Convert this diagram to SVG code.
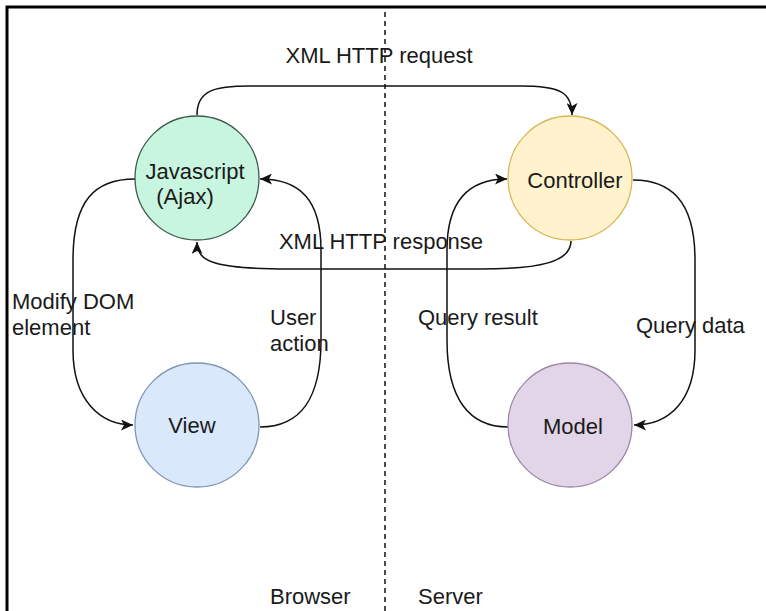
<svg xmlns="http://www.w3.org/2000/svg" width="766" height="611" viewBox="0 0 766 611">
<style>
text{font-family:"Liberation Sans",Arial,sans-serif;font-size:22px;fill:#1a1a1a}
.c{text-anchor:middle}
.edge{fill:none;stroke:#111;stroke-width:1.5;marker-end:url(#arr)}
</style>
<defs>
<marker id="arr" markerUnits="userSpaceOnUse" markerWidth="13" markerHeight="11" refX="12" refY="5.5" orient="auto">
<path d="M0,0 L12,5.5 L0,11 L3,5.5 z" fill="#111"/>
</marker>
</defs>
<rect width="766" height="611" fill="#fff"/>
<path d="M7,611 L7,7 L766,7" fill="none" stroke="#000" stroke-width="3"/>
<line x1="385" y1="12" x2="385" y2="611" stroke="#111" stroke-width="1.5" stroke-dasharray="5 4"/>

<g id="connectors">
<path class="edge" d="M197,115 C197,90 215,86 250,86 L520,86 C560,86 572,92 572,115"/>
<path class="edge" d="M571,241 C571,262 540,269 480,269 L290,269 C215,269 197,262 197,242"/>
<path class="edge" d="M135,179 C95,179 73,200 73,260 L73,350 C73,400 100,425 133,425"/>
<path class="edge" d="M260,427 C300,427 321,400 321,340 L321,250 C321,200 300,179 260,179"/>
<path class="edge" d="M633,180 C670,180 695,200 695,260 L695,350 C695,400 670,425 634,425"/>
<path class="edge" d="M508,427 C470,427 447,400 447,340 L447,250 C447,200 470,179 507,179"/>
</g>

<g id="labels">
<text class="c" x="379" y="63">XML HTTP request</text>
<text class="c" x="381" y="249">XML HTTP response</text>
<text x="12" y="309">Modify DOM</text>
<text x="12" y="335">element</text>
<text x="270" y="325">User</text>
<text x="270" y="351">action</text>
<text x="418" y="325">Query result</text>
<text x="636" y="333">Query data</text>
<text x="270" y="604">Browser</text>
<text x="418" y="604">Server</text>
</g>

<g id="javascript">
<circle cx="197" cy="178" r="62" fill="#c8f5df" stroke="#3d5a4c" stroke-width="1.3"/>
<text class="c" x="195" y="179">Javascript</text>
<text class="c" x="185" y="204">(Ajax)</text>
</g>
<g id="controller">
<circle cx="570" cy="178" r="62" fill="#fff2cc" stroke="#d6b656" stroke-width="1.3"/>
<text class="c" x="575" y="188">Controller</text>
</g>
<g id="view">
<circle cx="197" cy="425" r="62" fill="#dae8fc" stroke="#7f95b5" stroke-width="1.3"/>
<text class="c" x="192" y="433">View</text>
</g>
<g id="model">
<circle cx="570" cy="425" r="62" fill="#e1d5e7" stroke="#9a86a6" stroke-width="1.3"/>
<text class="c" x="573" y="434">Model</text>
</g>
</svg>
